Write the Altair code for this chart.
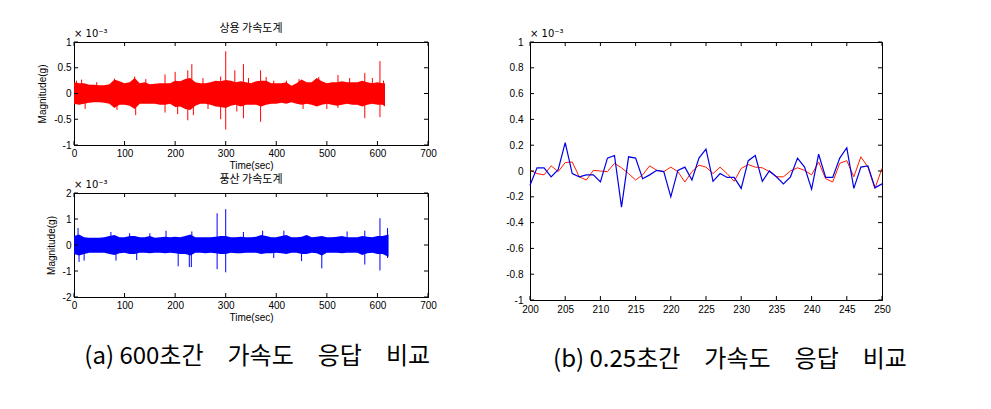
import altair as alt
import pandas as pd

# ---------------- data (values in units of 1e-3 g) ----------------
# (a) top: 상용 가속도계 — signal band envelope read every 10 s
red_env_t = list(range(0, 620, 10)) + [615]
red_up = [0.22, 0.20, 0.20, 0.17, 0.17, 0.16, 0.16, 0.18, 0.27, 0.24,
          0.20, 0.22, 0.30, 0.20, 0.22, 0.18, 0.19, 0.20, 0.20, 0.20,
          0.25, 0.24, 0.28, 0.30, 0.22, 0.20, 0.20, 0.22, 0.25, 0.24,
          0.26, 0.25, 0.22, 0.24, 0.22, 0.20, 0.24, 0.25, 0.25, 0.20,
          0.20, 0.20, 0.22, 0.15, 0.20, 0.27, 0.22, 0.22, 0.30, 0.24,
          0.20, 0.22, 0.22, 0.24, 0.22, 0.22, 0.22, 0.25, 0.22, 0.20,
          0.22, 0.20, 0.20]
red_lo = [-0.20, -0.22, -0.20, -0.18, -0.17, -0.17, -0.18, -0.20, -0.28, -0.22,
          -0.22, -0.24, -0.30, -0.20, -0.20, -0.20, -0.20, -0.22, -0.22, -0.20,
          -0.26, -0.25, -0.30, -0.32, -0.24, -0.20, -0.20, -0.22, -0.25, -0.26,
          -0.28, -0.24, -0.22, -0.25, -0.22, -0.22, -0.22, -0.25, -0.22, -0.20,
          -0.20, -0.18, -0.20, -0.17, -0.20, -0.22, -0.20, -0.22, -0.25, -0.22,
          -0.20, -0.22, -0.24, -0.22, -0.20, -0.22, -0.22, -0.25, -0.22, -0.20,
          -0.22, -0.22, -0.25]
red_spike_t = [5, 15, 22, 45, 80, 85, 120, 122, 142, 180, 180, 200, 205, 225, 225,
               233, 236, 255, 265, 290, 290, 300, 300, 318, 322, 335, 335, 345,
               369, 369, 380, 395, 420, 445, 453, 484, 500, 522, 522, 545, 575,
               575, 590, 605, 605, 612]
red_spike_v = [0.25, 0.27, -0.30, 0.22, 0.29, -0.32, 0.33, -0.42, 0.28, 0.37, -0.37,
               0.42, -0.40, 0.45, -0.52, 0.57, -0.42, 0.30, -0.30, 0.33, -0.50, 0.82,
               -0.70, 0.45, -0.35, 0.57, -0.48, 0.30, 0.45, -0.55, 0.32, 0.25, 0.25,
               0.28, -0.30, 0.32, -0.30, 0.36, -0.28, 0.30, 0.40, -0.48, 0.30, 0.63,
               -0.46, 0.25]

# (a) bottom: 풍산 가속도계
blue_env_t = list(range(0, 620, 10)) + [622]
blue_up = [0.35, 0.40, 0.30, 0.28, 0.28, 0.28, 0.30, 0.35, 0.38, 0.30,
           0.30, 0.35, 0.35, 0.30, 0.30, 0.35, 0.28, 0.30, 0.32, 0.30,
           0.32, 0.30, 0.35, 0.40, 0.30, 0.30, 0.30, 0.30, 0.32, 0.35,
           0.35, 0.30, 0.30, 0.32, 0.30, 0.30, 0.32, 0.38, 0.35, 0.30,
           0.30, 0.35, 0.38, 0.30, 0.30, 0.32, 0.38, 0.30, 0.32, 0.35,
           0.30, 0.30, 0.32, 0.35, 0.30, 0.30, 0.30, 0.35, 0.32, 0.30,
           0.35, 0.35, 0.40]
blue_lo = [-0.35, -0.40, -0.35, -0.30, -0.30, -0.30, -0.30, -0.35, -0.38, -0.32,
           -0.30, -0.35, -0.35, -0.30, -0.30, -0.32, -0.30, -0.30, -0.32, -0.30,
           -0.32, -0.35, -0.35, -0.40, -0.30, -0.30, -0.32, -0.30, -0.32, -0.35,
           -0.35, -0.30, -0.32, -0.32, -0.30, -0.30, -0.30, -0.35, -0.32, -0.32,
           -0.30, -0.32, -0.35, -0.30, -0.30, -0.35, -0.35, -0.30, -0.32, -0.40,
           -0.30, -0.30, -0.30, -0.32, -0.30, -0.30, -0.30, -0.38, -0.32, -0.30,
           -0.35, -0.35, -0.45]
blue_spike_t = [8, 10, 20, 73, 83, 110, 124, 150, 182, 206, 228, 232, 233, 283, 283,
                300, 300, 335, 373, 395, 415, 450, 490, 540, 575, 575, 605, 605,
                620, 620]
blue_spike_v = [0.65, -0.65, -0.60, 0.50, -0.60, 0.45, -0.58, 0.45, 0.55, -0.82,
                -0.85, -0.85, 0.52, 1.22, -0.93, 1.38, -1.05, 0.50, 0.55, -0.50,
                0.55, -0.62, -0.90, 0.52, 0.55, -0.75, 1.03, -0.98, 0.65, -0.50]

# (b) zoom 200..250 samples
zoom_t = list(range(200, 251))
zoom_red = [0.005, -0.02, -0.03, 0.04, -0.005, 0.065, 0.07, -0.045, -0.07, 0.005,
            0.0, -0.005, 0.06, 0.025, -0.02, -0.07, -0.03, 0.04, 0.005, -0.005,
            0.03, -0.005, -0.085, -0.005, 0.045, 0.03, -0.02, 0.03, -0.02, -0.08,
            0.02, 0.05, 0.03, 0.025, -0.005, -0.045, -0.045, 0.0, 0.025, 0.005,
            -0.03, 0.07, -0.06, -0.085, 0.06, 0.08, -0.045, 0.11, 0.03, -0.135, 0.02]
zoom_blue = [-0.11, 0.025, 0.025, -0.045, 0.01, 0.22, -0.02, -0.045, -0.03, -0.03,
             -0.085, 0.10, 0.12, -0.28, 0.11, 0.10, -0.06, -0.03, 0.005, -0.005,
             -0.20, 0.005, 0.03, -0.07, 0.10, 0.17, -0.08, -0.02, -0.05, -0.05,
             -0.135, 0.08, 0.12, -0.08, 0.0, -0.045, -0.10, -0.045, 0.10, 0.03,
             -0.14, 0.13, -0.05, -0.05, 0.10, 0.18, -0.135, 0.03, 0.04, -0.13, -0.10]

left_xticks = [0, 100, 200, 300, 400, 500, 600, 700]
top_yticks = [-1, -0.5, 0, 0.5, 1]
bot_yticks = [-2, -1, 0, 1, 2]
right_xticks = [200, 205, 210, 215, 220, 225, 230, 235, 240, 245, 250]
right_yticks = [-1, -0.8, -0.6, -0.4, -0.2, 0, 0.2, 0.4, 0.6, 0.8, 1]

title_top = "상용 가속도계"
title_bot = "풍산 가속도계"
EM = "\u2003"
caption_a = "(a) 600초간" + EM + "가속도" + EM + "응답" + EM + "비교"
caption_b = "(b) 0.25초간" + EM + "가속도" + EM + "응답" + EM + "비교"
exponent = "× 10⁻³"

KFONT = "Noto Sans CJK KR"
LW, LH = 354, 103
RW, RH = 352, 258
TL = 4  # inward tick length
NUMFMT = "~r"


def inward_ticks(xvals, yvals, X, Y, W, H):
    """Inward MATLAB-style ticks on all four sides, placed by the shared scales."""
    dx = pd.DataFrame({"v": xvals})
    dy = pd.DataFrame({"v": yvals})
    base_x = alt.Chart(dx).mark_rule(color="black", strokeWidth=1)
    base_y = alt.Chart(dy).mark_rule(color="black", strokeWidth=1)
    return [
        base_x.encode(x=X("v:Q"), y=alt.value(H), y2=alt.value(H - TL)),
        base_x.encode(x=X("v:Q"), y=alt.value(0), y2=alt.value(TL)),
        base_y.encode(y=Y("v:Q"), x=alt.value(0), x2=alt.value(TL)),
        base_y.encode(y=Y("v:Q"), x=alt.value(W), x2=alt.value(W - TL)),
    ]


def exp_label():
    return alt.Chart(pd.DataFrame({"s": [exponent]})).mark_text(
        align="left", baseline="bottom", fontSize=10, font="DejaVu Sans", color="black"
    ).encode(x=alt.value(0), y=alt.value(-3), text="s:N")


def signal_panel(env_t, up, lo, sp_t, sp_v, color, ydom, yticks, title, H):
    xs = alt.Scale(domain=[0, 700], nice=False)
    ys = alt.Scale(domain=ydom, nice=False)
    xa = alt.Axis(values=left_xticks, format=NUMFMT, title="Time(sec)", titlePadding=2, labelPadding=3)
    ya = alt.Axis(values=yticks, format=NUMFMT, title="Magnitude(g)", titlePadding=6, labelPadding=3)

    def X(f):
        return alt.X(f, scale=xs, axis=xa)

    def Y(f):
        return alt.Y(f, scale=ys, axis=ya)

    env = pd.DataFrame({"t": env_t, "up": up, "lo": lo})
    spk = pd.DataFrame({"t": sp_t, "v": sp_v, "z": [0.0] * len(sp_t)})
    area = alt.Chart(env).mark_area(color=color, opacity=1, interpolate="linear").encode(
        x=X("t:Q"), y=Y("up:Q"), y2="lo:Q")
    rules = alt.Chart(spk).mark_rule(color=color, strokeWidth=1).encode(
        x=X("t:Q"), y=Y("v:Q"), y2="z:Q")
    layers = [area, rules] + inward_ticks(left_xticks, yticks, X, Y, LW, H) + [exp_label()]
    return alt.layer(*layers).properties(
        width=LW, height=H,
        title=alt.Title(title, font=KFONT, fontSize=11, fontWeight="normal", offset=-5),
    )


top = signal_panel(red_env_t, red_up, red_lo, red_spike_t, red_spike_v, "#ff0000",
                   [-1, 1], top_yticks, title_top, LH)
bot = signal_panel(blue_env_t, blue_up, blue_lo, blue_spike_t, blue_spike_v, "#0000ff",
                   [-2, 2], bot_yticks, title_bot, LH + 1)

left = alt.vconcat(top, bot, spacing=48, bounds="flush").properties(
    title=alt.Title(caption_a, orient="bottom", font=KFONT, fontSize=24,
                    fontWeight="normal", offset=22, dx=47)
)

zxs = alt.Scale(domain=[200, 250], nice=False)
zys = alt.Scale(domain=[-1, 1], nice=False)
zxa = alt.Axis(values=right_xticks, format=NUMFMT, title=None, labelPadding=4)
zya = alt.Axis(values=right_yticks, format=NUMFMT, title=None, labelPadding=7)


def ZX(f):
    return alt.X(f, scale=zxs, axis=zxa)


def ZY(f):
    return alt.Y(f, scale=zys, axis=zya)


zred = alt.Chart(pd.DataFrame({"t": zoom_t, "v": zoom_red})).mark_line(
    color="#ff1a00", strokeWidth=1).encode(x=ZX("t:Q"), y=ZY("v:Q"))
zblue = alt.Chart(pd.DataFrame({"t": zoom_t, "v": zoom_blue})).mark_line(
    color="#0000e6", strokeWidth=1.2).encode(x=ZX("t:Q"), y=ZY("v:Q"))

right = alt.layer(
    *([zred, zblue] + inward_ticks(right_xticks, right_yticks, ZX, ZY, RW, RH) + [exp_label()])
).properties(
    width=RW, height=RH,
    title=alt.Title(caption_b, orient="bottom", font=KFONT, fontSize=24,
                    fontWeight="normal", offset=34, dx=24),
)

chart = alt.hconcat(left, right, spacing=68).properties(
    padding={"left": 37, "top": 22, "right": 5, "bottom": 5},
    background="white",
).configure_view(stroke="black", strokeWidth=1).configure_axis(
    grid=False, ticks=False, domainColor="black", domainWidth=1,
    labelColor="black", labelFont="Liberation Sans", labelFontSize=10,
    titleColor="black", titleFont="Liberation Sans", titleFontSize=10, titleFontWeight="normal",
    labelFlush=False, labelOverlap=False,
    labelExpr="replace(datum.label, '−', '-')",
)

chart.save("out.html", embed_options={"renderer": "svg", "actions": False})
